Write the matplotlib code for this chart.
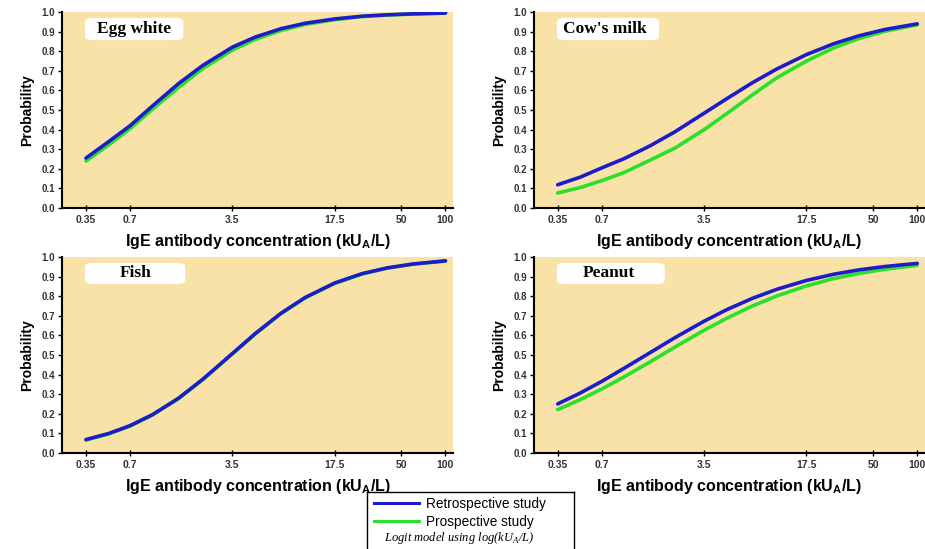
import matplotlib
matplotlib.use("Agg")
import matplotlib.pyplot as plt
from matplotlib.patches import FancyBboxPatch
from matplotlib.lines import Line2D

# concentration values (kUA/L) at which the curves were read
conc = [0.35, 0.5, 0.7, 1, 1.5, 2.2, 3.5, 5, 7.5, 11, 17.5, 27, 40, 60, 100]

egg_retro = [0.255, 0.339, 0.420, 0.522, 0.635, 0.728, 0.821, 0.872, 0.915, 0.943, 0.965, 0.979, 0.986, 0.991, 0.995]
egg_prosp = [0.240, 0.322, 0.405, 0.505, 0.615, 0.712, 0.806, 0.860, 0.906, 0.937, 0.961, 0.977, 0.985, 0.990, 0.995]

milk_retro = [0.119, 0.158, 0.205, 0.253, 0.318, 0.388, 0.484, 0.558, 0.640, 0.710, 0.783, 0.839, 0.879, 0.911, 0.940]
milk_prosp = [0.077, 0.105, 0.140, 0.182, 0.245, 0.305, 0.400, 0.482, 0.578, 0.665, 0.750, 0.818, 0.865, 0.902, 0.935]

fish_retro = [0.068, 0.099, 0.139, 0.196, 0.279, 0.376, 0.507, 0.608, 0.712, 0.793, 0.867, 0.915, 0.944, 0.964, 0.980]
fish_prosp = [0.066, 0.097, 0.137, 0.194, 0.277, 0.374, 0.505, 0.606, 0.710, 0.791, 0.865, 0.913, 0.943, 0.963, 0.979]

peanut_retro = [0.250, 0.306, 0.365, 0.433, 0.512, 0.587, 0.672, 0.731, 0.789, 0.835, 0.880, 0.912, 0.934, 0.951, 0.967]
peanut_prosp = [0.221, 0.272, 0.326, 0.389, 0.465, 0.539, 0.626, 0.687, 0.750, 0.801, 0.852, 0.890, 0.916, 0.937, 0.957]

xticks = [0.35, 0.7, 3.5, 17.5, 50, 100]
xtick_labels = ["0.35", "0.7", "3.5", "17.5", "50", "100"]
yticks = [0.0, 0.1, 0.2, 0.3, 0.4, 0.5, 0.6, 0.7, 0.8, 0.9, 1.0]

panels = [
    ("Egg white", egg_retro, egg_prosp, [0.067, 0.621, 0.423, 0.357], 0.09, "left", (0.059, 0.857, 0.251, 0.113)),
    ("Cow's milk", milk_retro, milk_prosp, [0.577, 0.621, 0.423, 0.357], 0.074, "left", (0.059, 0.857, 0.261, 0.113)),
    ("Fish", fish_retro, fish_prosp, [0.067, 0.175, 0.423, 0.357], 0.19, "center", (0.059, 0.862, 0.256, 0.108)),
    ("Peanut", peanut_retro, peanut_prosp, [0.577, 0.175, 0.423, 0.357], 0.125, "left", (0.059, 0.862, 0.276, 0.108)),
]

BG = "#F8E2A8"
BLUE = "#1C1CC8"
GREEN = "#2BE02B"
SANS = ["Liberation Sans", "DejaVu Sans"]
SERIF = ["Liberation Serif", "DejaVu Serif"]

fig = plt.figure(figsize=(9.25, 5.49), dpi=100)

for name, retro, prosp, rect, tx, ha, box in panels:
    ax = fig.add_axes(rect)
    ax.set_facecolor(BG)
    ax.plot(conc, prosp, color=GREEN, lw=2.6, solid_capstyle="round")
    ax.plot(conc, retro, color=BLUE, lw=2.6, solid_capstyle="round")
    ax.set_xscale("log")
    ax.set_xlim(0.24, 113)
    ax.set_ylim(0, 1)
    ax.set_xticks(xticks)
    ax.set_xticklabels(xtick_labels)
    ax.minorticks_off()
    ax.set_yticks(yticks)
    ax.set_yticklabels([f"{v:.1f}" for v in yticks])
    for side in ["top", "right"]:
        ax.spines[side].set_visible(False)
    for side in ["left", "bottom"]:
        ax.spines[side].set_linewidth(1.5)
    ax.tick_params(axis="y", direction="out", length=3, width=1, labelsize=7, pad=2, labelcolor="#333333")
    ax.tick_params(axis="x", direction="inout", length=4, width=1, labelsize=7.5, pad=3, labelcolor="#333333")
    for lab in ax.get_xticklabels() + ax.get_yticklabels():
        lab.set_fontfamily(SANS)
        lab.set_fontweight("bold")
    ax.set_ylabel("Probability", fontsize=10, fontweight="bold", family=SANS, labelpad=5)
    ax.set_xlabel("IgE antibody concentration (kU$_\\mathregular{A}$/L)", fontsize=11.5,
                  fontweight="bold", family=SANS, labelpad=5)

    bx, by, bw, bh = box
    ax.add_patch(FancyBboxPatch((bx, by), bw, bh, boxstyle="round,pad=0,rounding_size=0.02",
                                transform=ax.transAxes, facecolor="white", edgecolor="none", zorder=3))
    if ha == "center":
        tx = bx + bw / 2
    ax.text(tx, by + bh / 2, name, transform=ax.transAxes, ha=ha, va="center",
            fontsize=12.5, fontweight="bold", family=SERIF, zorder=4)

# legend box
lax = fig.add_axes([0.397, -0.02, 0.224, 0.124])
lax.set_xticks([])
lax.set_yticks([])
lax.set_facecolor("white")
for s in lax.spines.values():
    s.set_linewidth(1.0)
handles = [Line2D([], [], color=BLUE, lw=2.2), Line2D([], [], color=GREEN, lw=2.2)]
leg = lax.legend(handles, ["Retrospective study", "Prospective study"], loc="upper left",
                 bbox_to_anchor=(0.035, 0.93), frameon=False, handlelength=3.3, handletextpad=0.5,
                 borderpad=0, borderaxespad=0, labelspacing=0.3,
                 prop={"family": SANS, "size": 9.8})
lax.text(0.442, 0.33, "Logit model using log(kU$_\\mathregular{A}$/L)", transform=lax.transAxes,
         ha="center", va="center", fontsize=9, style="italic", family=SERIF)

fig.savefig("out.png", dpi=100)
